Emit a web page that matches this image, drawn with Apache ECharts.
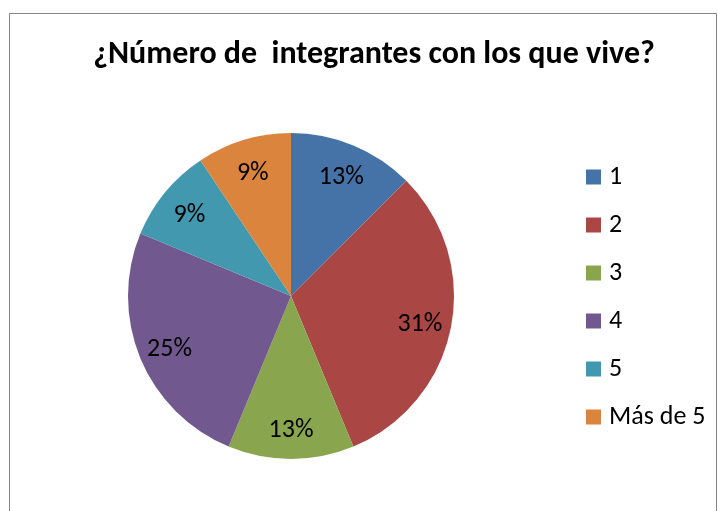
<!DOCTYPE html>
<html>
<head>
<meta charset="utf-8">
<script src="https://cdn.jsdelivr.net/npm/echarts@6/dist/echarts.min.js"></script>
<style>
  html, body { margin: 0; padding: 0; background: #fff; }
  #chart { width: 718px; height: 511px; }
</style>
</head>
<body>
<div id="chart"></div>
<script>
// categories and counts (4+10+4+8+3+3 = 32 respondents)
var categories = ['1', '2', '3', '4', '5', 'Más de 5']
var counts = [4, 10, 4, 8, 3, 3]
var colors = ['#4572A7', '#AA4643', '#89A54E', '#71588F', '#4198AF', '#DB843D']

var total = counts.reduce(function (a, b) { return a + b }, 0)
var pieData = categories.map(function (c, i) {
  return { name: c, value: counts[i] }
})

var font = 'Carlito, Calibri, "Open Sans", sans-serif'
var chart = echarts.init(document.getElementById('chart'))
chart.setOption({
  animation: false,
  color: colors,
  backgroundColor: '#FFFFFF',
  title: {
    text: '¿Número de  integrantes con los que vive?',
    left: 374,
    textAlign: 'center',
    top: 39,
    padding: 0,
    textStyle: {
      fontFamily: font,
      fontWeight: 'bold',
      fontSize: 32,
      color: '#000'
    }
  },
  legend: {
    orient: 'vertical',
    left: 586,
    top: 164,
    padding: 0,
    icon: 'rect',
    itemWidth: 15,
    itemHeight: 15,
    itemGap: 22,
    selectedMode: false,
    data: categories,
    textStyle: {
      fontFamily: font,
      fontSize: 26,
      lineHeight: 26,
      color: '#000',
      padding: [0, 0, 0, 3]
    }
  },
  graphic: [{
    type: 'rect',
    shape: { x: 9.5, y: 13.5, width: 707, height: 520 },
    style: { fill: 'none', stroke: '#868686', lineWidth: 1 },
    silent: true
  }],
  series: [{
    name: 'main',
    type: 'pie',
    center: [291, 296],
    radius: [0, 163],
    startAngle: 90,
    clockwise: true,
    label: { show: false },
    labelLine: { show: false },
    emphasis: { disabled: true },
    data: pieData
  }, {
    name: 'labels',
    type: 'pie',
    center: [291, 296],
    radius: [94, 163],
    startAngle: 90,
    clockwise: true,
    silent: true,
    itemStyle: { color: 'transparent' },
    emphasis: { disabled: true },
    labelLine: { show: false },
    label: {
      show: true,
      position: 'inside',
      offset: [0, 3],
      fontFamily: font,
      fontSize: 26,
      color: '#000',
      formatter: function (p) {
        return Math.round(p.value / total * 100) + '%'
      }
    },
    data: pieData
  }]
})
</script>
</body>
</html>
